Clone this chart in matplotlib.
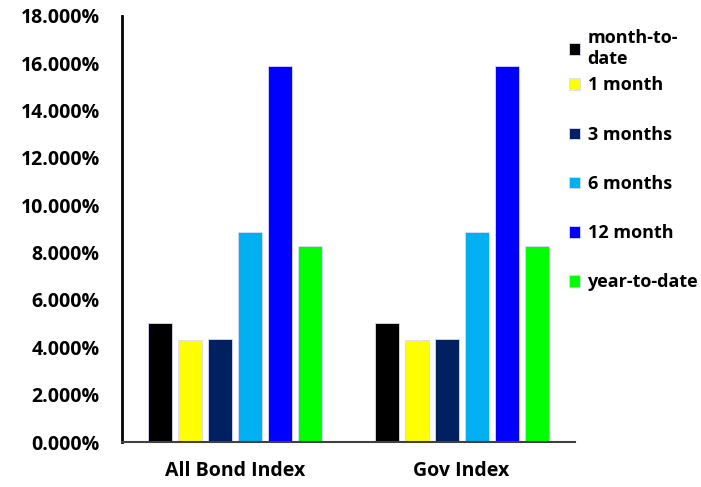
import numpy as np
import matplotlib
matplotlib.use("Agg")
import matplotlib.pyplot as plt
from matplotlib.ticker import FuncFormatter

plt.rcParams['font.family'] = ['Open Sans', 'DejaVu Sans']
plt.rcParams['font.weight'] = 'bold'

# data (returns in %)
categories = ['All Bond Index', 'Gov Index']
series = ['month-to-\ndate', '1 month', '3 months', '6 months', '12 month', 'year-to-date']
month_to_date = [5.03, 5.03]
one_month = [4.30, 4.30]
three_months = [4.34, 4.34]
six_months = [8.87, 8.87]
twelve_month = [15.89, 15.89]
year_to_date = [8.27, 8.27]
values = [month_to_date, one_month, three_months, six_months, twelve_month, year_to_date]
colors = ['#000000', '#FFFF00', '#002060', '#00B0F0', '#0000FF', '#00FF00']

fig = plt.figure(figsize=(7.01, 4.87), dpi=100)
ax = fig.add_axes([0.174, 0.0924, 0.646, 0.875])

x = np.arange(len(categories))
step = 0.1325
width = 0.106
bars = []
for i, (name, vals, c) in enumerate(zip(series, values, colors)):
    b = ax.bar(x + (i - 2.5) * step, vals, width, color=c, label=name,
               edgecolor='#d9d9ff', linewidth=0.6)
    bars.append(b)

ax.set_xlim(-0.5, 1.5)
ax.set_ylim(0, 18)
ax.set_yticks(np.arange(0, 19, 2))
ax.yaxis.set_major_formatter(FuncFormatter(lambda v, p: f'{v:.3f}%'))
ax.set_xticks(x)
ax.set_xticklabels(categories)
ax.tick_params(axis='both', length=0, labelsize=14)
ax.tick_params(axis='y', pad=16)
ax.tick_params(axis='x', pad=14)
for lab in ax.get_xticklabels() + ax.get_yticklabels():
    lab.set_fontweight('bold')

for s in ['top', 'right']:
    ax.spines[s].set_visible(False)
ax.spines['left'].set_linewidth(2)
ax.spines['left'].set_color('black')
ax.spines['bottom'].set_linewidth(1.5)
ax.spines['bottom'].set_color('#404040')

legprops = dict(frameon=False, prop={'size': 13, 'weight': 'bold'}, handlelength=0.6,
                handleheight=0.6, handletextpad=0.42, borderaxespad=0, borderpad=0)
# first (two-line) entry on its own, the rest evenly spaced below
leg1 = fig.legend(handles=bars[:1], labels=series[:1], loc='upper left',
                  bbox_to_anchor=(0.812, 0.941), labelspacing=0.2, **legprops)
leg2 = fig.legend(handles=bars[1:], labels=series[1:], loc='upper left',
                  bbox_to_anchor=(0.812, 0.843), labelspacing=1.73, **legprops)

fig.savefig('out.png', dpi=100)
